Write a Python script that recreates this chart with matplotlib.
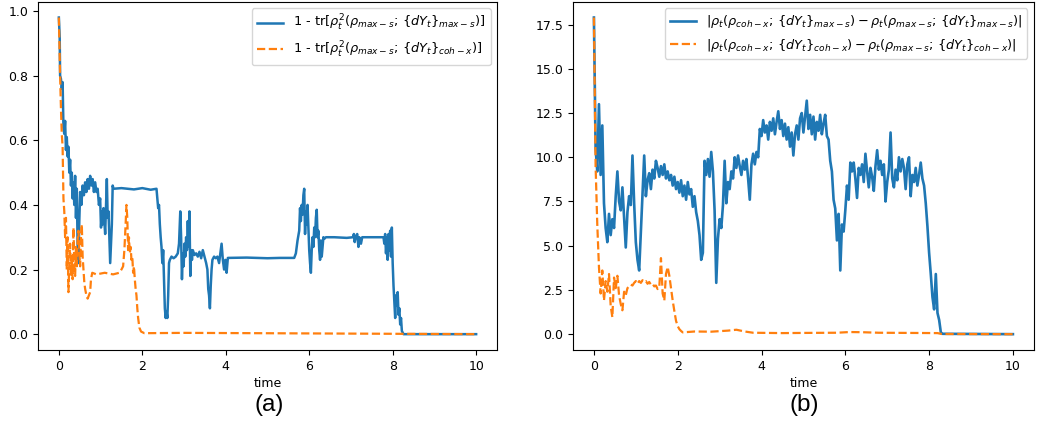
import matplotlib
matplotlib.use("Agg")
import matplotlib.pyplot as plt
import numpy as np

plt.rcParams['font.size'] = 9

# ---- panel (a): 1 - purity, sampled trajectory ----
a_max_t = [0.00, 0.02, 0.03, 0.05, 0.07, 0.09, 0.11, 0.13, 0.15, 0.17, 0.19, 0.21, 0.23, 0.25, 0.27,
           0.29, 0.31, 0.33, 0.35, 0.37, 0.39, 0.41, 0.43, 0.45, 0.47, 0.49, 0.51, 0.54, 0.57, 0.60,
           0.63, 0.66, 0.69, 0.72, 0.75, 0.78, 0.81, 0.84, 0.87, 0.90, 0.93, 0.96, 0.99, 1.01, 1.03,
           1.05, 1.07, 1.09, 1.11, 1.13, 1.15, 1.17, 1.19, 1.21, 1.23, 1.25, 1.27, 1.29, 1.31, 1.50,
           1.80, 2.00, 2.20, 2.34, 2.36, 2.38, 2.40, 2.42, 2.44, 2.46, 2.48, 2.50, 2.52, 2.54, 2.56,
           2.58, 2.60, 2.62, 2.64, 2.66, 2.70, 2.75, 2.80, 2.85, 2.88, 2.91, 2.93, 2.95, 2.97, 2.99,
           3.01, 3.03, 3.05, 3.07, 3.09, 3.11, 3.13, 3.15, 3.17, 3.19, 3.21, 3.25, 3.29, 3.33, 3.37,
           3.41, 3.45, 3.49, 3.53, 3.56, 3.58, 3.60, 3.62, 3.64, 3.66, 3.68, 3.72, 3.76, 3.80, 3.84,
           3.87, 3.90, 3.93, 3.96, 3.99, 4.02, 4.05, 4.50, 5.00, 5.30, 5.64, 5.68, 5.72, 5.76, 5.78,
           5.80, 5.82, 5.84, 5.86, 5.88, 5.90, 5.92, 5.94, 5.96, 5.98, 6.00, 6.02, 6.04, 6.06, 6.08,
           6.10, 6.12, 6.14, 6.16, 6.18, 6.20, 6.22, 6.24, 6.26, 6.28, 6.30, 6.32, 6.34, 6.36, 6.40,
           6.60, 6.90, 7.05, 7.07, 7.09, 7.11, 7.15, 7.18, 7.20, 7.24, 7.27, 7.50, 7.78, 7.80, 7.82,
           7.84, 7.86, 7.88, 7.90, 7.92, 7.94, 7.96, 7.98, 8.00, 8.02, 8.04, 8.06, 8.08, 8.10, 8.12,
           8.14, 8.16, 8.18, 8.20, 8.22, 8.26, 10.00]
a_max_v = [0.98, 0.92, 0.80, 0.79, 0.76, 0.78, 0.64, 0.62, 0.66, 0.57, 0.61, 0.55, 0.58, 0.50, 0.54,
           0.46, 0.50, 0.42, 0.47, 0.40, 0.49, 0.36, 0.45, 0.27, 0.22, 0.35, 0.44, 0.40, 0.46, 0.43,
           0.47, 0.44, 0.48, 0.45, 0.49, 0.46, 0.48, 0.44, 0.47, 0.44, 0.45, 0.40, 0.42, 0.33, 0.38,
           0.34, 0.39, 0.35, 0.31, 0.40, 0.48, 0.36, 0.38, 0.30, 0.22, 0.28, 0.34, 0.46, 0.45, 0.452,
           0.448, 0.452, 0.447, 0.45, 0.42, 0.39, 0.40, 0.34, 0.30, 0.27, 0.22, 0.26, 0.17, 0.08, 0.05,
           0.07, 0.05, 0.12, 0.22, 0.23, 0.24, 0.235, 0.24, 0.25, 0.28, 0.38, 0.30, 0.17, 0.25, 0.21,
           0.28, 0.24, 0.30, 0.26, 0.35, 0.27, 0.38, 0.18, 0.26, 0.23, 0.26, 0.245, 0.25, 0.24, 0.255,
           0.235, 0.26, 0.24, 0.22, 0.20, 0.14, 0.12, 0.08, 0.15, 0.20, 0.23, 0.24, 0.235, 0.24, 0.22,
           0.25, 0.28, 0.23, 0.20, 0.23, 0.19, 0.236, 0.237, 0.235, 0.236, 0.236, 0.25, 0.29, 0.32, 0.39,
           0.35, 0.40, 0.37, 0.43, 0.45, 0.31, 0.38, 0.34, 0.40, 0.33, 0.26, 0.22, 0.19, 0.26, 0.30,
           0.27, 0.33, 0.30, 0.36, 0.385, 0.30, 0.32, 0.26, 0.23, 0.29, 0.24, 0.27, 0.30, 0.295, 0.30,
           0.30, 0.298, 0.30, 0.31, 0.285, 0.30, 0.31, 0.27, 0.30, 0.28, 0.30, 0.30, 0.30, 0.28, 0.31,
           0.25, 0.30, 0.23, 0.31, 0.26, 0.32, 0.24, 0.33, 0.22, 0.15, 0.10, 0.05, 0.12, 0.09, 0.13,
           0.06, 0.08, 0.03, 0.05, 0.01, 0.0, 0.0]

a_coh_t = [0.00, 0.03, 0.05, 0.07, 0.09, 0.10, 0.11, 0.13, 0.15, 0.17, 0.19, 0.21, 0.23, 0.25, 0.27,
           0.29, 0.31, 0.33, 0.35, 0.37, 0.39, 0.41, 0.43, 0.45, 0.47, 0.49, 0.51, 0.53, 0.55, 0.57,
           0.59, 0.61, 0.63, 0.66, 0.69, 0.72, 0.75, 0.77, 0.80, 0.90, 1.10, 1.30, 1.45, 1.50, 1.54,
           1.57, 1.60, 1.62, 1.64, 1.66, 1.68, 1.70, 1.72, 1.74, 1.76, 1.78, 1.80, 1.82, 1.84, 1.86,
           1.88, 1.90, 1.93, 1.97, 2.05, 3.00, 10.00]
a_coh_v = [0.98, 0.80, 0.70, 0.62, 0.58, 0.50, 0.42, 0.38, 0.30, 0.36, 0.20, 0.30, 0.13, 0.22, 0.28,
           0.18, 0.24, 0.17, 0.33, 0.22, 0.18, 0.27, 0.21, 0.29, 0.32, 0.25, 0.21, 0.30, 0.34, 0.24,
           0.20, 0.16, 0.14, 0.12, 0.11, 0.12, 0.13, 0.17, 0.19, 0.185, 0.19, 0.185, 0.19, 0.20, 0.21,
           0.26, 0.34, 0.40, 0.36, 0.26, 0.30, 0.25, 0.27, 0.23, 0.24, 0.19, 0.21, 0.17, 0.14, 0.12,
           0.08, 0.05, 0.02, 0.008, 0.003, 0.004, 0.0]

# ---- panel (b): trace distance between the two estimates ----
b_dt = 0.04
b_max_v = [17.9, 10.5, 9.2, 13.0, 9.0, 11.8, 7.4, 6.0, 5.2, 6.8, 5.6, 6.5, 6.0, 7.8, 9.2,
           7.5, 7.0, 8.3, 6.6, 4.9, 6.9, 7.8, 7.3, 10.1, 7.4, 5.2, 4.2, 3.6, 5.8, 8.0,
           10.1, 7.8, 8.7, 9.1, 8.2, 9.3, 8.8, 9.8, 9.4, 8.9, 9.5, 9.0, 9.6, 8.8, 9.2,
           8.7, 9.0, 8.4, 8.9, 8.2, 8.6, 8.0, 8.7, 7.8, 8.4, 7.6, 8.6, 7.9, 8.2, 7.2,
           7.8, 6.9, 6.4, 5.6, 4.2, 4.6, 9.8, 9.0, 9.9, 8.9, 10.3, 9.2, 7.0, 2.9, 5.4,
           6.5, 6.0, 7.3, 9.8, 7.4, 8.6, 8.2, 9.2, 8.8, 10.0, 9.4, 10.1, 9.5, 9.0, 9.8,
           9.3, 9.9, 8.8, 7.6, 9.6, 10.2, 9.6, 10.3, 10.0, 11.6, 11.2, 12.1, 11.4, 11.8, 11.0,
           12.0, 11.5, 12.2, 11.3, 12.0, 12.6, 11.6, 12.1, 11.2, 11.9, 11.0, 11.7, 10.6, 11.4, 10.1,
           11.3, 11.8, 11.0, 12.2, 12.5, 11.4, 12.3, 13.2, 11.6, 12.4, 11.3, 12.3, 11.0, 12.0, 11.5,
           12.4, 11.3, 11.9, 12.4, 11.2, 11.0, 9.8, 9.2, 7.6, 7.1, 5.3, 6.8, 3.6, 6.2, 5.8,
           7.0, 8.4, 7.6, 9.7, 9.2, 9.7, 8.8, 7.7, 9.4, 9.0, 9.6, 8.6, 10.2, 9.2, 8.3,
           9.4, 8.9, 8.1, 9.5, 10.4, 9.3, 9.8, 9.0, 9.6, 7.5, 8.6, 9.3, 11.4, 8.8, 8.3,
           9.3, 8.7, 10.0, 9.2, 9.9, 9.4, 8.2, 9.6, 10.0, 7.8, 9.0, 8.6, 9.4, 8.4, 9.0,
           9.7, 8.8, 8.4, 7.4, 6.1, 4.6, 3.4, 2.1, 1.4, 3.4, 1.2, 0.8, 0.1, 0.02]
b_max_tail_t = [10.0]
b_max_tail_v = [0.0]

b_coh_v = [17.9, 9.5, 6.2, 3.8, 2.3, 3.6, 1.9, 3.0, 2.4, 3.4, 1.6, 0.95, 3.2, 2.6, 3.3,
           2.2, 1.7, 1.35, 2.4, 2.2, 2.6, 2.7, 2.8, 2.75, 2.9, 3.0, 2.85, 3.0, 2.9, 3.05,
           2.95, 3.0, 2.85, 2.95, 2.8, 2.85, 2.7, 2.75, 2.55, 2.65, 4.3, 2.3, 1.9, 3.4, 3.8,
           3.3, 2.6, 1.9, 1.3, 0.75, 0.45, 0.28, 0.18, 0.1]
b_coh_tail_t = [2.4, 2.8, 3.2, 3.4, 3.6, 3.8, 4.5, 5.0, 5.8, 6.1, 6.4, 6.8, 7.5, 8.2, 8.3, 10.0]
b_coh_tail_v = [0.15, 0.14, 0.2, 0.25, 0.15, 0.08, 0.06, 0.07, 0.08, 0.12, 0.11, 0.08, 0.07, 0.06, 0.01, 0.0]

b_max_t = list(np.round(np.arange(len(b_max_v)) * b_dt, 2)) + b_max_tail_t
b_max_v = b_max_v + b_max_tail_v
b_coh_t = list(np.round(np.arange(len(b_coh_v)) * b_dt, 2)) + b_coh_tail_t
b_coh_v = b_coh_v + b_coh_tail_v

labels_a = [r'1 - tr[$\rho_t^2(\rho_{max-s};\,\{dY_t\}_{max-s})$]',
            r'1 - tr[$\rho_t^2(\rho_{max-s};\,\{dY_t\}_{coh-x})$]']
labels_b = [r'$|\rho_t(\rho_{coh-x};\,\{dY_t\}_{max-s})-\rho_t(\rho_{max-s};\,\{dY_t\}_{max-s})|$',
            r'$|\rho_t(\rho_{coh-x};\,\{dY_t\}_{coh-x})-\rho_t(\rho_{max-s};\,\{dY_t\}_{coh-x})|$']

fig = plt.figure(figsize=(10.38, 4.23), dpi=100)
ax1 = fig.add_axes([0.0366, 0.1726, 0.4422, 0.8234])
ax2 = fig.add_axes([0.552, 0.1726, 0.444, 0.8234])

ax1.plot(a_max_t, a_max_v, color='#1f77b4', lw=1.8, label=labels_a[0])
ax1.plot(a_coh_t, a_coh_v, color='#ff7f0e', lw=1.6, ls='--', label=labels_a[1])
ax2.plot(b_max_t, b_max_v, color='#1f77b4', lw=1.9, label=labels_b[0])
ax2.plot(b_coh_t, b_coh_v, color='#ff7f0e', lw=1.6, ls='--', label=labels_b[1])

for ax in (ax1, ax2):
    ax.set_xlabel('time', labelpad=3)
    ax.legend(loc='upper right', fontsize=9.3)
    ax.set_xticks([0, 2, 4, 6, 8, 10])

fig.text(0.259, 0.042, '(a)', ha='center', va='center', fontsize=17.5, family='Liberation Sans')
fig.text(0.775, 0.042, '(b)', ha='center', va='center', fontsize=17.5, family='Liberation Sans')

fig.savefig('out.png', dpi=100)
